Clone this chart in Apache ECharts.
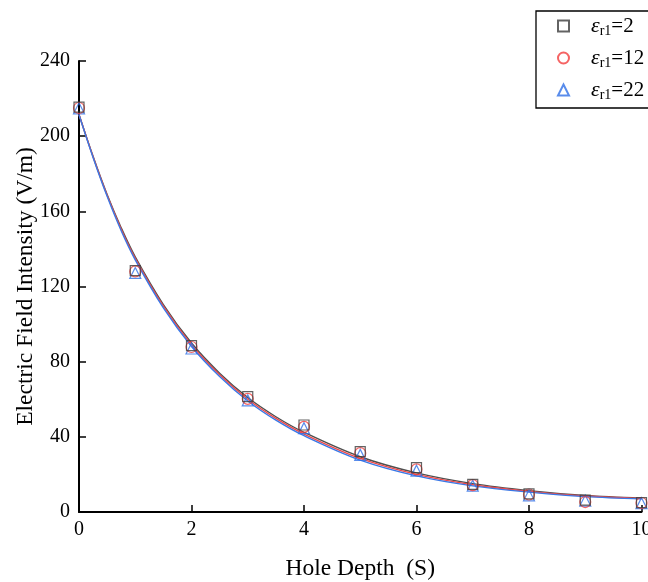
<!DOCTYPE html>
<html>
<head>
<meta charset="utf-8">
<script src="https://cdn.jsdelivr.net/npm/echarts@6/dist/echarts.min.js"></script>
<style>html,body{margin:0;padding:0;background:#fff;}#c{width:648px;height:582px;}</style>
</head>
<body>
<div id="c"></div>
<script>
// ---- data ----
const seriesNames = ['εr1=2', 'εr1=12', 'εr1=22'];
const depthPoints = [0, 1, 2, 3, 4, 5, 6, 7, 8, 9, 10];
const measured2  = [215.5, 128.5, 88.5, 61.4, 46.3, 32.1, 23.6, 14.7, 9.6, 6.3, 5.0];
const measured12 = [215.0, 128.0, 87.8, 60.2, 45.3, 31.3, 22.7, 14.3, 9.3, 5.3, 4.8];
const measured22 = [214.8, 127.2, 87.0, 59.4, 44.6, 30.4, 22.0, 14.0, 8.9, 6.1, 4.7];

const fitDepth = [0, 0.25, 0.5, 0.75, 1, 1.5, 2, 2.5, 3, 3.5, 4, 5, 6, 7, 8, 9, 10];
const fit2  = [211.6, 189.3, 169.0, 151.3, 135.8, 110.4, 89.9, 73.9, 60.9, 50.7, 42.4, 29.4, 20.8, 15.1, 11.4, 8.8, 7.4];
const fit12 = [211.5, 189.0, 168.5, 150.5, 135.0, 109.5, 89.0, 73.0, 60.0, 49.8, 41.5, 28.5, 20.0, 14.5, 11.0, 8.5, 7.2];
const fit22 = [211.4, 188.7, 168.0, 149.7, 134.2, 108.6, 88.1, 72.1, 59.1, 48.9, 40.6, 27.6, 19.2, 13.9, 10.6, 8.2, 7.0];

const xTicks = [0, 2, 4, 6, 8, 10];
const yTicks = [0, 40, 80, 120, 160, 200, 240];

const pointColors = ['#3c3c3c', '#f23c3c', '#2f6fe6'];
const lineColors  = ['#505050', '#ef4a4a', '#3a78e6'];
const symbols = ['rect', 'circle', 'triangle'];

const pair = (xs, ys) => xs.map((x, i) => [x, ys[i]]);
const measured = [measured2, measured12, measured22];
const fits = [fit2, fit12, fit22];
const FONT = '"Liberation Serif", "Times New Roman", serif';

const series = [];
fits.forEach((f, i) => {
  series.push({
    type: 'line', name: 'fit' + i, data: pair(fitDepth, f), smooth: 0.35,
    showSymbol: false, symbol: 'none', z: 2,
    lineStyle: { color: lineColors[i], width: 1.4 }, silent: true
  });
});
measured.forEach((m, i) => {
  series.push({
    type: 'scatter', name: seriesNames[i], data: pair(depthPoints, m),
    symbol: symbols[i], symbolSize: symbols[i] === 'rect' ? 10 : 11, z: 5 - i, clip: false,
    itemStyle: { color: 'rgba(255,255,255,0)', borderColor: pointColors[i], borderWidth: 1.2 }
  });
});

const chart = echarts.init(document.getElementById('c'));
chart.setOption({
  animation: false,
  backgroundColor: '#fff',
  grid: { left: 79, top: 61, right: 6.5, bottom: 70, containLabel: false, outerBoundsMode: 'none' },
  legend: {
    data: seriesNames, orient: 'vertical', left: 536, top: 11,
    padding: [4, 30, 6, 21], itemGap: 9, itemWidth: 11, itemHeight: 11,
    borderColor: '#000', borderWidth: 1.3, backgroundColor: '#fff',
    formatter: function (name) {
      const v = name.split('=')[1];
      return '{e|ε}{s|r1}{n|=' + v + '}';
    },
    textStyle: {
      padding: [0, 0, 0, 17],
      rich: {
        e: { fontFamily: FONT, fontSize: 22, fontStyle: 'italic', color: '#000', height: 25, verticalAlign: 'middle' },
        s: { fontFamily: FONT, fontSize: 14, color: '#000', padding: [10, 0, 0, 0], verticalAlign: 'middle' },
        n: { fontFamily: FONT, fontSize: 21, color: '#000', height: 25, verticalAlign: 'middle' }
      }
    }
  },
  xAxis: {
    type: 'value', min: 0, max: 10, interval: 2,
    name: 'Hole Depth  (S)', nameLocation: 'middle', nameGap: 45, nameMoveOverlap: false,
    nameTextStyle: { fontFamily: FONT, fontSize: 23.5, color: '#000' },
    axisLine: { lineStyle: { color: '#000', width: 2 } },
    axisTick: { inside: true, length: 7, lineStyle: { color: '#000', width: 1.5 } },
    axisLabel: { fontFamily: FONT, fontSize: 20, color: '#000', margin: 8,
      formatter: v => xTicks.includes(v) ? String(v) : '' },
    splitLine: { show: false }
  },
  yAxis: {
    type: 'value', min: 0, max: 240, interval: 40,
    name: 'Electric Field Intensity (V/m)', nameLocation: 'middle', nameGap: 41, nameMoveOverlap: false,
    nameTextStyle: { fontFamily: FONT, fontSize: 23.5, color: '#000' },
    axisLine: { show: true, lineStyle: { color: '#000', width: 2 } },
    axisTick: { show: true, inside: true, length: 7, lineStyle: { color: '#000', width: 1.5 } },
    axisLabel: { fontFamily: FONT, fontSize: 20, color: '#000', margin: 9,
      formatter: v => yTicks.includes(v) ? String(v) : '' },
    splitLine: { show: false }
  },
  series: series
});
</script>
</body>
</html>
